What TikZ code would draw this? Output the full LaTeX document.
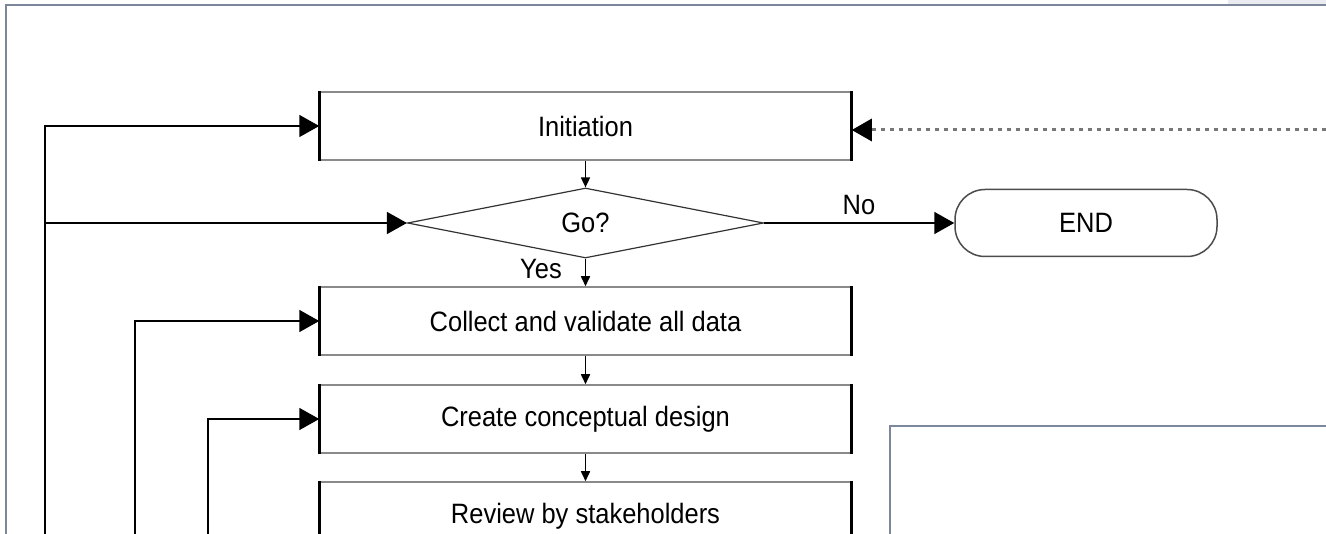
\documentclass[tikz,border=0pt]{standalone}
\usepackage{fontspec}
\setmainfont[FakeStretch=0.91]{Liberation Sans}
\usetikzlibrary{arrows.meta,shapes.geometric}
\definecolor{framecol}{HTML}{7D879B}
\definecolor{boxgray}{HTML}{8A8A8A}
\definecolor{dotgray}{HTML}{777777}
\definecolor{patch}{HTML}{E9EBF0}
\tikzset{
  stepbox/.style={draw=boxgray, line width=1.5pt, rectangle, minimum width=531pt, minimum height=68pt, inner sep=0pt, font=\fontsize{28}{32}\selectfont},
  sideline/.style={draw=black, line width=3pt},
  decision/.style={draw=black!80, line width=1.2pt, shape=diamond, minimum width=356pt, minimum height=70pt, inner sep=0pt, font=\fontsize{28}{32}\selectfont},
  terminal/.style={draw=black!70, line width=1.5pt, rectangle, rounded corners=30pt, minimum width=262pt, minimum height=67pt, inner sep=0pt, font=\fontsize{28}{32}\selectfont},
  lbl/.style={inner sep=0pt, font=\fontsize{28}{32}\selectfont},
  conn/.style={draw=black, line width=1.6pt},
  bigarrow/.style={conn, -{Triangle[length=20pt,width=22pt]}},
  smallarrow/.style={conn, -{Triangle[length=10pt,width=9pt]}},
  dotarrow/.style={draw=dotgray, line width=3pt, dash pattern=on 4.5pt off 4.5pt, -{Triangle[length=20pt,width=22pt,fill=black,color=black]}},
  framestyle/.style={draw=framecol, line width=2pt},
}
\begin{document}
\begin{tikzpicture}[x=1pt,y=-1pt]
\useasboundingbox (0,0) rectangle (1326,534);
\clip (0,0) rectangle (1326,534);
\fill[white] (0,0) rectangle (1326,534);
\fill[patch] (1228,0) rectangle (1330,4);
% frames
\draw[framestyle] (6,545) -- (6,5) -- (1335,5);
\draw[framestyle] (890,545) -- (890,426) -- (1335,426);
% nodes
\node[stepbox] (init) at (585.5,126) {Initiation};
\node[decision] (go) at (585.5,223) {Go?};
\node[terminal] (end) at (1086,223) {END};
\node[stepbox] (collect) at (585.5,321) {Collect and validate all data};
\node[stepbox] (create) at (585.5,419) {Create conceptual design};
\node[stepbox] (review) at (585.5,516) {Review by stakeholders};
\foreach \n in {init,collect,create,review}{
  \draw[sideline] (\n.north west) -- (\n.south west);
  \draw[sideline] (\n.north east) -- (\n.south east);
}
% labels
\node[lbl, anchor=base] (no) at (859,215) {No};
\node[lbl, anchor=base] (yes) at (541,279) {Yes};
% free ends
\coordinate (lb1) at (45,545);
\coordinate (lb2) at (135,545);
\coordinate (lb3) at (208,545);
\coordinate (dr) at (1335,130);
% connectors
\draw[bigarrow] (lb1) |- (init.west);
\draw[bigarrow] (lb1 |- go.west) -- (go.west);
\draw[bigarrow] (lb2) |- (collect.west);
\draw[bigarrow] (lb3) |- (create.west);
\draw[smallarrow] (init.south) -- (go.north);
\draw[smallarrow] (go.south) -- (collect.north);
\draw[smallarrow] (collect.south) -- (create.north);
\draw[smallarrow] (create.south) -- (review.north);
\draw[bigarrow] (go.east) -- (end.west);
\draw[dotarrow] (dr) -- (dr -| init.east);
\end{tikzpicture}
\end{document}
